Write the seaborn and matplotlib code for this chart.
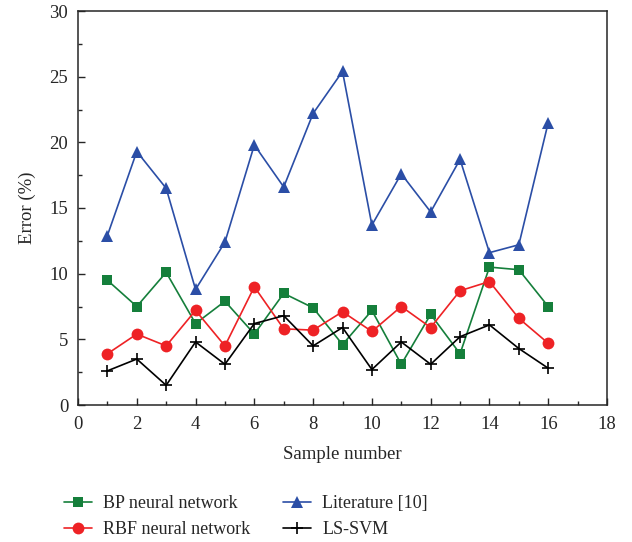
import matplotlib
matplotlib.use("Agg")
import matplotlib.pyplot as plt
import seaborn as sns
import pandas as pd
from matplotlib.ticker import MultipleLocator

samples = list(range(1, 17))
bp = [9.5, 7.5, 10.1, 6.2, 7.9, 5.4, 8.5, 7.4, 4.6, 7.2, 3.1, 6.9, 3.9, 10.5, 10.3, 7.5]
rbf = [3.9, 5.4, 4.5, 7.2, 4.5, 9.0, 5.8, 5.7, 7.1, 5.6, 7.5, 5.9, 8.7, 9.4, 6.6, 4.7]
lit = [12.9, 19.3, 16.5, 8.8, 12.4, 19.8, 16.6, 22.2, 25.4, 13.7, 17.6, 14.7, 18.7, 11.6, 12.2, 21.5]
lssvm = [2.6, 3.5, 1.5, 4.8, 3.1, 6.2, 6.8, 4.5, 5.9, 2.7, 4.8, 3.1, 5.2, 6.1, 4.3, 2.8]
names = ["BP neural network", "RBF neural network", "Literature [10]", "LS-SVM"]

sns.set_style("ticks")
plt.rcParams["font.family"] = ["Liberation Serif", "DejaVu Serif"]

df = pd.concat([
    pd.DataFrame({"Sample": samples, "Error": vals, "Method": n})
    for n, vals in zip(names, [bp, rbf, lit, lssvm])
])

colors = {"BP neural network": "#157f3b", "RBF neural network": "#ee2225",
          "Literature [10]": "#2b4ea6", "LS-SVM": "#000000"}
markers = {"BP neural network": "s", "RBF neural network": "o",
           "Literature [10]": "^", "LS-SVM": "+"}
msizes = {"BP neural network": 7, "RBF neural network": 8.5,
          "Literature [10]": 9, "LS-SVM": 8}

fig = plt.figure(figsize=(6.32, 5.42), dpi=100)
ax = fig.add_axes([78/632, (542-405)/542, (607-78)/632, (405-11)/542])

for n in names:
    sub = df[df["Method"] == n]
    sns.lineplot(data=sub, x="Sample", y="Error", ax=ax, color=colors[n],
                 marker=markers[n], markersize=msizes[n], markeredgewidth=1.2 if n == "LS-SVM" else 0,
                 markeredgecolor=colors[n], linewidth=1.2, label=n)

ax.set_xlim(0, 18)
ax.set_ylim(0, 30)
ax.xaxis.set_major_locator(MultipleLocator(2))
ax.xaxis.set_minor_locator(MultipleLocator(1))
ax.yaxis.set_major_locator(MultipleLocator(5))
ax.yaxis.set_minor_locator(MultipleLocator(2.5))
ax.tick_params(which="both", direction="in", top=False, right=False, labelsize=13.5)
ax.tick_params(axis="x", which="major", length=5, width=1, pad=8)
ax.tick_params(axis="y", which="major", length=5, width=1, pad=7)
ax.tick_params(which="minor", length=3, width=1)
for s in ax.spines.values():
    s.set_linewidth(1.1)
ax.set_xlabel("Sample number", fontsize=13.5, labelpad=9)
ax.set_ylabel("Error (%)", fontsize=13.5, labelpad=10)

ax.legend(loc="upper left", bbox_to_anchor=(-0.026, -0.228), ncol=2, frameon=False,
          fontsize=13, handlelength=1.55, handletextpad=0.6, columnspacing=1.83,
          labelspacing=0.5, borderpad=0, borderaxespad=0)

fig.savefig("out.png", dpi=100)
